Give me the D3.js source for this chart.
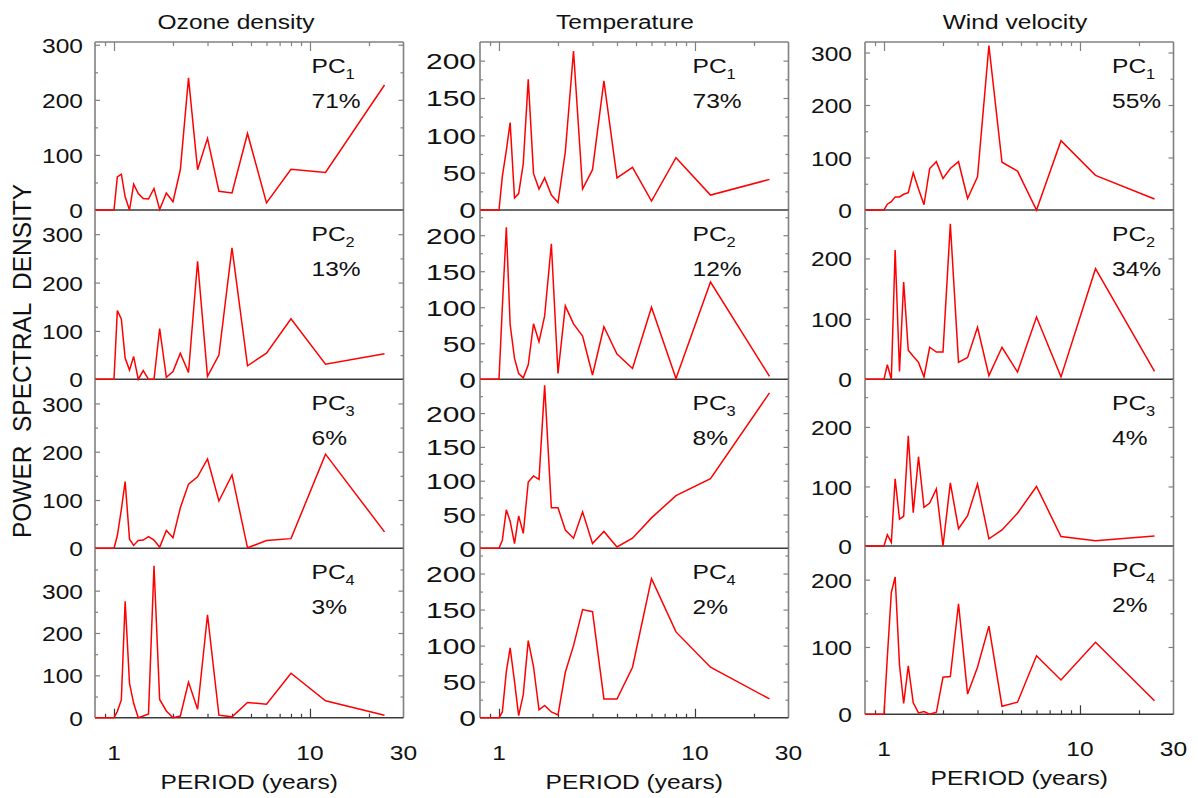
<!DOCTYPE html>
<html>
<head>
<meta charset="utf-8">
<script src="https://cdn.jsdelivr.net/npm/d3@7"></script>
<style>
  html, body { margin: 0; padding: 0; background: #fff; }
  svg text { font-family: "Liberation Sans", Arial, Helvetica, sans-serif; fill: #111; }
</style>
</head>
<body>
<svg id="chart" width="1198" height="798"></svg>
<script>
// Fourier periods (years) of a 24-year record, shortest first
const periods = [0.8, 0.83, 0.86, 0.89, 0.92, 0.96, 1.0, 1.04, 1.09, 1.14, 1.2, 1.26, 1.33, 1.41,
  1.5, 1.6, 1.71, 1.85, 2.0, 2.18, 2.4, 2.67, 3.0, 3.43, 4.0, 4.8, 6, 8, 12, 24];

// Power spectral density of the first four principal components
const ozonePC1 = [0,0,0,0,0,0, 0,60,65,24,0,47,30,21,20,39,1,31,15,73,240,73,130,34,31,139,13,74,68,227];
const ozonePC2 = [0,0,0,0,0,0, 0,142,125,44,19,47,0,18,0,0,105,4,16,54,14,244,6,50,272,28,54,125,31,53];
const ozonePC3 = [0,0,0,0,0,0, 0,26,80,138,19,6,16,17,24,17,2,37,22,84,133,148,185,98,152,1,16,20,195,34];
const ozonePC4 = [0,0,0,0,0,0, 0,15,42,275,81,34,0,4,9,359,43,16,0,4,84,20,243,6,2,36,32,105,40,6];

const tempPC1 = [0,0,0,0,0,0, 0,45,80,117,16,22,62,175,49,28,43,20,10,78,213,28,54,173,43,57,12,70,20,41];
const tempPC2 = [0,0,0,0,0,0, 0,100,211,76,29,8,2,20,77,52,88,188,8,102,77,60,6,73,35,15,100,1,135,4];
const tempPC3 = [0,0,0,0,0,0, 0,12,57,40,7,48,22,98,107,102,241,60,60,27,15,54,7,25,2,15,45,78,103,230];
const tempPC4 = [0,0,0,0,0,0, 0,8,64,97,50,3,32,107,71,11,17,8,4,63,100,150,147,26,26,70,193,119,70,26];

const windPC1 = [0,0,0,0,0,0, 0,11,16,25,25,30,33,71,40,10,79,92,60,79,92,22,63,313,91,74,0,132,66,21];
const windPC2 = [0,0,0,0,0,0, 0,24,0,214,13,161,48,38,28,4,53,45,45,257,28,36,86,6,53,12,103,4,183,13];
const windPC3 = [0,0,0,0,0,0, 0,19,6,113,45,50,185,56,150,65,72,96,0,106,29,51,104,12,27,55,100,16,9,17];
const windPC4 = [0,0,0,0,0,0, 0,85,181,204,73,16,72,17,2,4,0,3,55,56,164,30,70,131,12,18,87,51,107,20];

// Share of variance explained by each component (%)
const ozoneVariance = [71, 13, 6, 3];
const tempVariance = [73, 12, 8, 2];
const windVariance = [55, 34, 4, 2];

const columnTitles = ["Ozone density", "Temperature", "Wind velocity"];
const xTickLabels = [1, 10, 30];
const xMinorTicks = [0.9, 2, 3, 4, 5, 6, 7, 8, 9, 20];
const xMajorTicks = [1, 10];
const yTitle = "POWER  SPECTRAL  DENSITY";
const xTitle = "PERIOD (years)";

// ---- layout ----
const FONT = 21;
const SX = 1.17;                 // horizontal stretch of all lettering
const RED = "#ff0000";
const FRAME = "#808080";
const ZERO = "#3a3a3a";

const columns = [
  { title: columnTitles[0], series: [ozonePC1, ozonePC2, ozonePC3, ozonePC4], pct: ozoneVariance,
    left: 95, titleX: 236, yMax: [305, 350, 350, 400], step: 100, minor: 50, labelMax: [300, 300, 300, 300],
    rows: [42, 210, 379.3, 548.3, 717.7], labelGap: 12, labelSX: SX, labelFont: FONT, pcX: 311.5 },
  { title: columnTitles[1], series: [tempPC1, tempPC2, tempPC3, tempPC4], pct: tempVariance,
    left: 480, titleX: 625, yMax: [225, 235, 250, 235], step: 50, minor: 25, labelMax: [200, 200, 200, 200],
    rows: [42, 210, 379.3, 548.3, 717.7], labelGap: 4, labelSX: 1.36, labelFont: 22, pcX: 692.5 },
  { title: columnTitles[2], series: [windPC1, windPC2, windPC3, windPC4], pct: windVariance,
    left: 865, titleX: 1015, yMax: [320, 280, 280, 250], step: 100, minor: 50, labelMax: [300, 200, 200, 200],
    rows: [42, 210, 379.3, 546, 714.3], labelGap: 13, labelSX: SX, labelFont: FONT, pcX: 1112 }
];
const panelW = 308.5;

const svg = d3.select("#chart");

function stretchedText(g, x, y, str, opts = {}) {
  const t = g.append("text")
    .attr("transform", `translate(${x},${y}) scale(${opts.sx || SX},1)` + (opts.rotate ? ` rotate(${opts.rotate})` : ""))
    .attr("text-anchor", opts.anchor || "start")
    .style("font-size", (opts.size || FONT) + "px");
  if (opts.pre) t.style("white-space", "pre");
  t.text(str);
  return t;
}

columns.forEach((col, ci) => {
  const x = d3.scaleLog().domain([0.8, 30]).range([col.left, col.left + panelW]);
  const cg = svg.append("g");

  // column title
  stretchedText(cg, col.titleX, 29, col.title, { anchor: "middle" });

  col.series.forEach((values, ri) => {
    const top = col.rows[ri], bottom = col.rows[ri + 1];
    const y = d3.scaleLinear().domain([0, col.yMax[ri]]).range([bottom, top]);
    const pg = cg.append("g");
    const clipId = `clip-${ci}-${ri}`;
    pg.append("clipPath").attr("id", clipId)
      .append("rect").attr("x", col.left).attr("y", top)
      .attr("width", panelW).attr("height", bottom - top + 2);

    const points = periods.map((p, i) => ({ p, v: values[i] }));
    const line = d3.line().x(d => x(d.p)).y(d => y(d.v));

    // y ticks: inward on both sides
    const majors = d3.range(0, col.labelMax[ri] + 1, col.step);
    const minors = d3.range(col.minor, col.yMax[ri], col.step).filter(v => v <= col.yMax[ri]);

    const leftMinor = pg.append("g").attr("transform", `translate(${col.left},0)`)
      .call(d3.axisLeft(y).tickValues(minors).tickSizeInner(-3).tickSizeOuter(0).tickFormat(""));
    const rightMinor = pg.append("g").attr("transform", `translate(${col.left + panelW},0)`)
      .call(d3.axisRight(y).tickValues(minors).tickSizeInner(-3).tickSizeOuter(0).tickFormat(""));
    const leftMajor = pg.append("g").attr("transform", `translate(${col.left},0)`)
      .call(d3.axisLeft(y).tickValues(majors.filter(v => v > 0)).tickSizeInner(-5).tickSizeOuter(0).tickFormat(""));
    const rightMajor = pg.append("g").attr("transform", `translate(${col.left + panelW},0)`)
      .call(d3.axisRight(y).tickValues(majors.filter(v => v > 0)).tickSizeInner(-5).tickSizeOuter(0).tickFormat(""));
    [leftMinor, rightMinor, leftMajor, rightMajor].forEach(a => {
      a.select(".domain").remove();
      a.selectAll(".tick line").attr("stroke", FRAME).attr("stroke-width", 1.2);
    });

    // y tick labels
    const labels = pg.append("g").attr("transform", `translate(${col.left},0)`)
      .call(d3.axisLeft(y).tickValues(majors).tickSize(0).tickPadding(col.labelGap));
    labels.select(".domain").remove();
    labels.selectAll(".tick text")
      .attr("x", null).attr("dy", null)
      .attr("transform", `translate(${-col.labelGap},${col.labelFont * 0.36}) scale(${col.labelSX},1)`)
      .attr("fill", "#111")
      .style("font-size", col.labelFont + "px")
      .style("font-family", '"Liberation Sans", Arial, Helvetica, sans-serif');

    // x ticks on the outer edges only
    if (ri === 0 || ri === 3) {
      const edgeY = ri === 0 ? top : bottom;
      const mk = (vals, len) => {
        const ax = ri === 0 ? d3.axisTop(x) : d3.axisBottom(x);
        const g = pg.append("g").attr("transform", `translate(0,${edgeY})`)
          .call(ax.tickValues(vals).tickSizeInner(-len).tickSizeOuter(0).tickFormat(""));
        g.select(".domain").remove();
        g.selectAll(".tick line").attr("stroke", ri === 0 ? FRAME : ZERO).attr("stroke-width", 1.2);
      };
      mk(xMinorTicks, 4);
      mk(xMajorTicks, 9);
    }

    // frame
    pg.append("line").attr("x1", col.left).attr("x2", col.left).attr("y1", top).attr("y2", bottom)
      .attr("stroke", FRAME).attr("stroke-width", 1.6);
    pg.append("line").attr("x1", col.left + panelW).attr("x2", col.left + panelW).attr("y1", top).attr("y2", bottom)
      .attr("stroke", FRAME).attr("stroke-width", 1.6);
    if (ri === 0) {
      pg.append("line").attr("x1", col.left).attr("x2", col.left + panelW).attr("y1", top).attr("y2", top)
        .attr("stroke", FRAME).attr("stroke-width", 1.6);
    }
    pg.append("line").attr("x1", col.left).attr("x2", col.left + panelW).attr("y1", y(0)).attr("y2", y(0))
      .attr("stroke", ZERO).attr("stroke-width", 1.5);

    // spectrum, drawn over the zero line
    pg.append("path").datum(points)
      .attr("clip-path", `url(#${clipId})`)
      .attr("fill", "none").attr("stroke", RED).attr("stroke-width", 1.5)
      .attr("stroke-linejoin", "miter")
      .attr("d", line);

    // component label
    const pc = stretchedText(pg, col.pcX, top + 31, "PC");
    pc.append("tspan").attr("dy", 6).style("font-size", "14px").text(ri + 1);
    stretchedText(pg, col.pcX, top + 66, col.pct[ri] + "%");
  });

  // x tick labels and axis title
  const base = col.rows[4];
  xTickLabels.forEach(v => stretchedText(cg, x(v), base + 42, String(v), { anchor: "middle" }));
  stretchedText(cg, col.left + panelW / 2, base + 71, xTitle, { anchor: "middle" });
});

// shared y-axis title
stretchedText(svg, 31, 361, yTitle, { anchor: "middle", rotate: -90, pre: true, size: 24.5, sx: 1.03 });
</script>
</body>
</html>
